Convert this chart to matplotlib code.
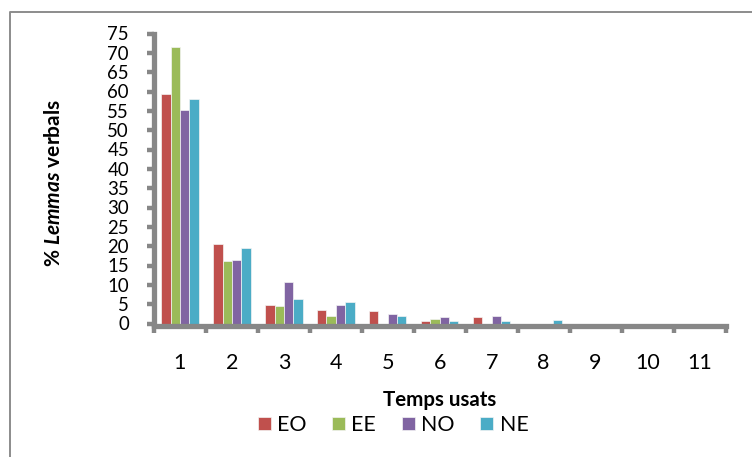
import numpy as np
import matplotlib.pyplot as plt
from matplotlib.lines import Line2D

plt.rcParams['font.family'] = ['Lato', 'DejaVu Sans']
plt.rcParams['mathtext.fontset'] = 'custom'
plt.rcParams['mathtext.bfit'] = 'Lato:italic:bold'
plt.rcParams['mathtext.rm'] = 'Lato:bold'

# tenses used (number of tenses per verb lemma)
temps = ["1", "2", "3", "4", "5", "6", "7", "8", "9", "10", "11"]

# % of verb lemmas for each corpus
eo = [59.3, 20.6, 4.7, 3.5, 3.2, 0.6, 1.7, 0.0, 0.0, 0.0, 0.0]
ee = [71.6, 16.2, 4.5, 1.9, 0.0, 1.1, 0.0, 0.0, 0.0, 0.0, 0.0]
no = [55.1, 16.4, 10.7, 4.8, 2.5, 1.7, 2.0, 0.0, 0.0, 0.0, 0.0]
ne = [58.0, 19.4, 6.3, 5.6, 1.9, 0.65, 0.65, 0.9, 0.0, 0.0, 0.0]

series = ["EO", "EE", "NO", "NE"]
colors = ["#C0504D", "#9BBB59", "#8064A2", "#4BACC6"]

fig = plt.figure(figsize=(7.52, 4.57), dpi=100)
ax = fig.add_axes([154 / 752, 133.5 / 457, 571.5 / 752, 290 / 457])

# axis lines first (moving a spine resets its ticks)
for s in ["top", "right"]:
    ax.spines[s].set_visible(False)
ax.spines["bottom"].set_position(("outward", 1.9))
for s in ["left", "bottom"]:
    ax.spines[s].set_color("#878787")
    ax.spines[s].set_linewidth(3.8)
    ax.spines[s].set_zorder(3)

x = np.arange(len(temps))
w = 0.18
for i, (vals, name, c) in enumerate(zip([eo, ee, no, ne], series, colors)):
    ax.bar(x + (i - 1.5) * w, vals, width=w, color=c, label=name,
           edgecolor="#f4f4f4", linewidth=0.5, zorder=2)

ax.set_xlim(-0.5, len(temps) - 0.5)
ax.set_ylim(0, 75)
ax.set_yticks(range(0, 80, 5))

# category labels in the middle, tick marks on the boundaries
ax.set_xticks(x)
ax.set_xticklabels(temps, fontsize=15.5)
ax.set_xticks(np.arange(-0.5, len(temps)), minor=True)
ax.tick_params(axis="x", which="major", length=0, pad=19.3)
ax.tick_params(axis="x", which="minor", length=5, width=3.2,
               color="#878787", direction="out")
ax.tick_params(axis="y", length=5, width=3.2, color="#878787",
               labelsize=13.4, pad=13)

fig.text(54 / 752, 1 - 182.5 / 457, r"% $\mathbfit{Lemmas}$ verbals",
         rotation=90, fontsize=15, fontweight="bold",
         ha="center", va="center")
fig.text(440 / 752, 1 - 400 / 457, "Temps usats", fontsize=14.8,
         fontweight="bold", ha="center", va="center")

fig.legend(loc="center", bbox_to_anchor=(393 / 752, 1 - 425 / 457), ncol=4,
           frameon=False, fontsize=15.4, handlelength=0.6, handleheight=0.6,
           handletextpad=0.3, columnspacing=1.2, borderpad=0)

# chart area border (left and top edges)
fig.add_artist(Line2D([9.5 / 752, 9.5 / 752, 1.0], [0.0, 1 - 11.5 / 457, 1 - 11.5 / 457],
                      transform=fig.transFigure, color="#8c8c8c", linewidth=1.4))

fig.savefig("out.png", dpi=100)
